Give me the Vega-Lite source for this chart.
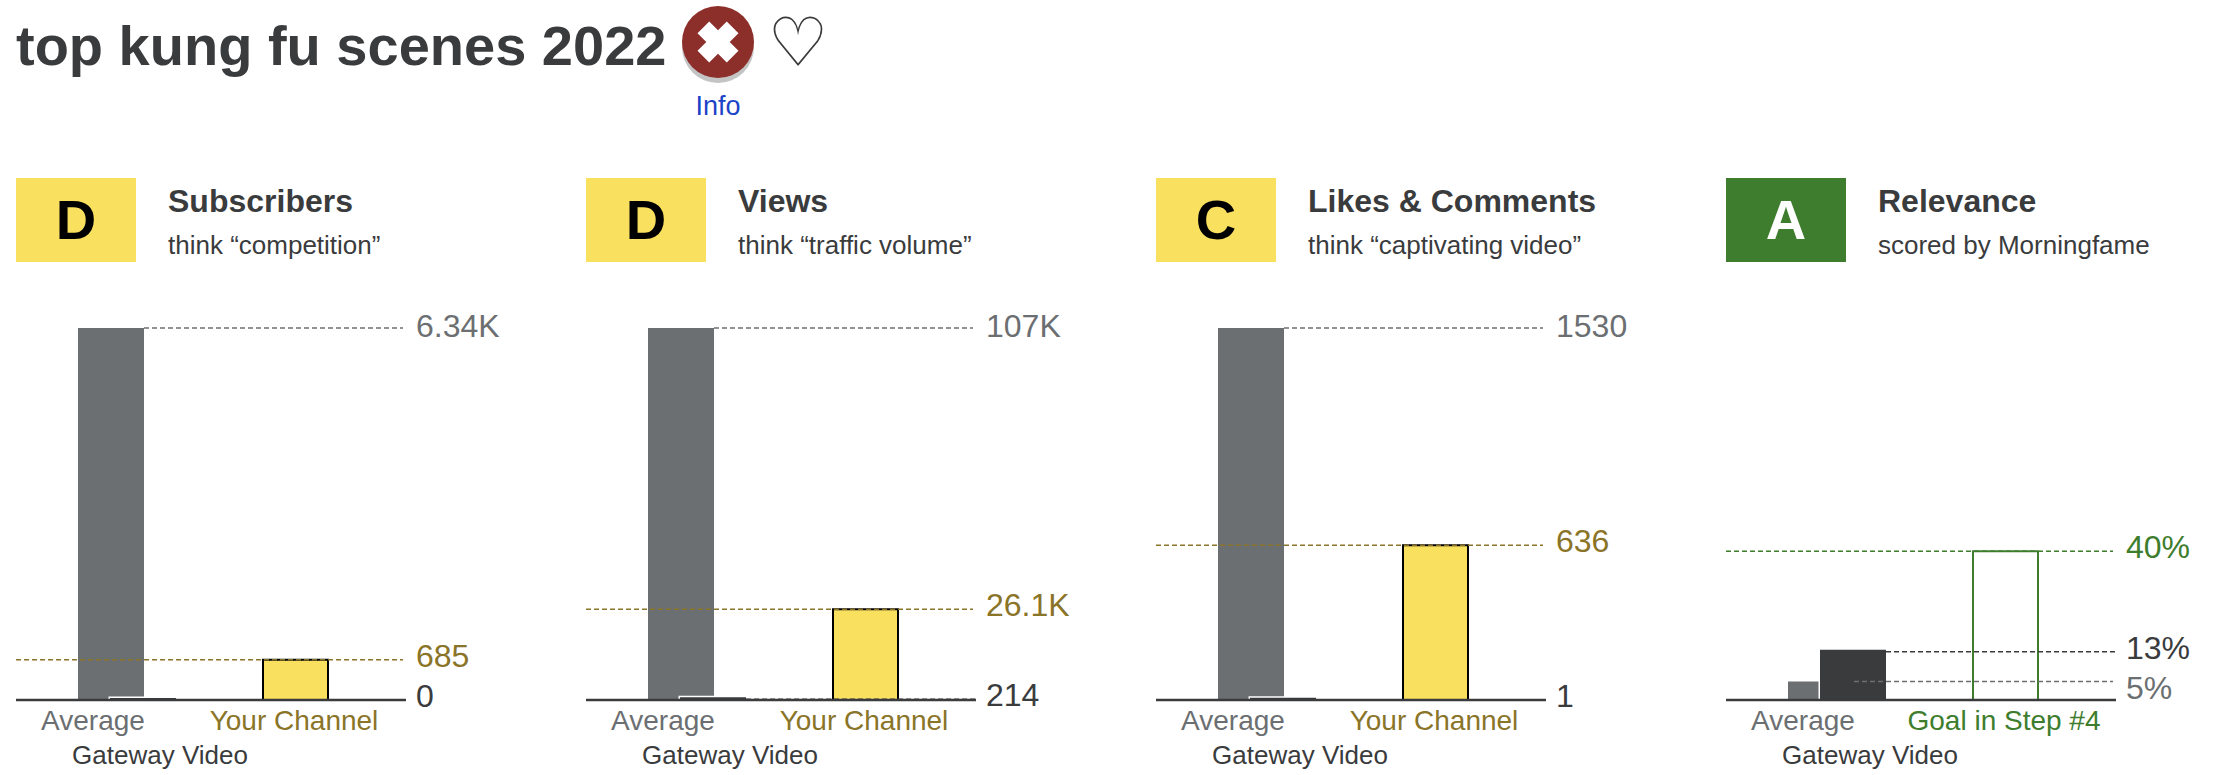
{
"$schema":"https://vega.github.io/schema/vega-lite/v6.json",
"padding":{"left":14,"top":0,"right":0,"bottom":0},
"background":"white",
"config":{"font":"Liberation Sans","view":{"stroke":null},"axis":{"disable":true}},
"datasets":{
"page":[{"title":"top kung fu scenes 2022","link":"Info","favourite":"♡"}],
"heads":[
{"metric":"Subscribers","grade":"D","heading":"Subscribers","note":"think “competition”"},
{"metric":"Views","grade":"D","heading":"Views","note":"think “traffic volume”"},
{"metric":"Likes & Comments","grade":"C","heading":"Likes & Comments","note":"think “captivating video”"},
{"metric":"Relevance","grade":"A","heading":"Relevance","note":"scored by Morningfame"}],
"rows":[
{"metric":"Subscribers","series":"Average","label":"Average","value":6340,"display":"6.34K"},
{"metric":"Subscribers","series":"Gateway Video","label":"Gateway Video","value":0,"display":"0"},
{"metric":"Subscribers","series":"Target","label":"Your Channel","value":685,"display":"685"},
{"metric":"Views","series":"Average","label":"Average","value":107000,"display":"107K"},
{"metric":"Views","series":"Gateway Video","label":"Gateway Video","value":214,"display":"214"},
{"metric":"Views","series":"Target","label":"Your Channel","value":26100,"display":"26.1K"},
{"metric":"Likes & Comments","series":"Average","label":"Average","value":1530,"display":"1530"},
{"metric":"Likes & Comments","series":"Gateway Video","label":"Gateway Video","value":1,"display":"1"},
{"metric":"Likes & Comments","series":"Target","label":"Your Channel","value":636,"display":"636"},
{"metric":"Relevance","series":"Average","label":"Average","value":5,"display":"5%"},
{"metric":"Relevance","series":"Gateway Video","label":"Gateway Video","value":13,"display":"13%"},
{"metric":"Relevance","series":"Target","label":"Goal in Step #4","value":40,"display":"40%"},
{"metric":"Relevance","series":"Scale top","label":"","value":100,"display":""}]
},
"vconcat":[
{"data":{"name":"page"},"width":850,"height":140,
"layer":[
{"mark":{"type":"text","align":"left","baseline":"alphabetic","fontSize":56,"fontWeight":"bold","fill":"#3A3B3D"},
"encoding":{"x":{"datum":0,"type":"quantitative","scale":{"domain":[0,850],"nice":false}},"y":{"datum":65,"type":"quantitative","scale":{"domain":[140,0],"nice":false}},"text":{"field":"title"}}},
{"mark":{"type":"point","filled":true,"fill":"#555555","opacity":0.35,"size":5184,"yOffset":5},
"encoding":{"x":{"datum":702,"type":"quantitative"},"y":{"datum":42,"type":"quantitative"}}},
{"mark":{"type":"point","filled":true,"fill":"#8C2F2B","opacity":1,"size":5184},
"encoding":{"x":{"datum":702,"type":"quantitative"},"y":{"datum":42,"type":"quantitative"}}},
{"mark":{"type":"point","shape":"cross","angle":45,"filled":true,"fill":"white","opacity":1,"size":1714},
"encoding":{"x":{"datum":702,"type":"quantitative"},"y":{"datum":42,"type":"quantitative"}}},
{"mark":{"type":"text","font":"DejaVu Sans","align":"center","baseline":"alphabetic","fontSize":68,"fill":"#3A3B3D"},
"encoding":{"x":{"datum":782,"type":"quantitative"},"y":{"datum":66,"type":"quantitative"},"text":{"field":"favourite"}}},
{"mark":{"type":"text","align":"center","baseline":"alphabetic","fontSize":27,"fill":"#1B44C8"},
"encoding":{"x":{"datum":702,"type":"quantitative"},"y":{"datum":115,"type":"quantitative"},"text":{"field":"link"}}}
]},
{"data":{"name":"heads"},"spacing":{"column":80},
"facet":{"column":{"field":"metric","header":null,"sort":["Subscribers","Views","Likes & Comments","Relevance"]}},
"spec":{"width":490,"height":95,"layer":[
{"mark":{"type":"rect"},
"encoding":{"x":{"datum":0,"type":"quantitative","scale":{"domain":[0,490],"nice":false}},"x2":{"datum":120},"y":{"datum":0,"type":"quantitative","scale":{"domain":[95,0],"nice":false}},"y2":{"datum":84},
"fill":{"condition":{"test":"datum.grade==='A'","value":"#3E7D2D"},"value":"#FAE05F"}}},
{"mark":{"type":"text","align":"center","baseline":"alphabetic","fontSize":56,"fontWeight":"bold"},
"encoding":{"x":{"datum":60,"type":"quantitative"},"y":{"datum":61,"type":"quantitative"},"text":{"field":"grade"},
"fill":{"condition":{"test":"datum.grade==='A'","value":"white"},"value":"black"}}},
{"mark":{"type":"text","align":"left","baseline":"alphabetic","fontSize":32,"fontWeight":"bold","fill":"#3A3B3D"},
"encoding":{"x":{"datum":152,"type":"quantitative"},"y":{"datum":34,"type":"quantitative"},"text":{"field":"heading"}}},
{"mark":{"type":"text","align":"left","baseline":"alphabetic","fontSize":26,"fill":"#3A3B3D"},
"encoding":{"x":{"datum":152,"type":"quantitative"},"y":{"datum":76,"type":"quantitative"},"text":{"field":"note"}}}
]}},
{"data":{"name":"rows"},"spacing":{"column":80},"bounds":"flush",
"facet":{"column":{"field":"metric","header":null,"sort":["Subscribers","Views","Likes & Comments","Relevance"]}},
"resolve":{"scale":{"y":"independent"}},
"spec":{"width":490,"height":372,"layer":[
{"transform":[{"filter":"datum.series==='Scale top'"}],
"mark":{"type":"rule","opacity":0},
"encoding":{"x":{"datum":0,"type":"quantitative","scale":{"domain":[0,490],"nice":false}},"x2":{"datum":1},"y":{"field":"value","type":"quantitative","scale":{"nice":false,"zero":true}}}},
{"transform":[{"filter":"datum.series==='Average'"}],
"mark":{"type":"rect","fill":"#6C6F72"},
"encoding":{"x":{"datum":62,"type":"quantitative"},"x2":{"datum":128},"y":{"field":"value","type":"quantitative"},"y2":{"datum":0}}},
{"transform":[{"filter":"datum.series==='Target'"}],
"mark":{"type":"rect","strokeWidth":2},
"encoding":{"x":{"datum":247,"type":"quantitative"},"x2":{"datum":312},"y":{"field":"value","type":"quantitative"},"y2":{"datum":0},
"fill":{"condition":{"test":"datum.metric==='Relevance'","value":"white"},"value":"#FAE05F"},
"stroke":{"condition":{"test":"datum.metric==='Relevance'","value":"#3E7D2D"},"value":"black"}}},
{"transform":[{"filter":"datum.series==='Gateway Video'"}],
"mark":{"type":"rect","fill":"white","stroke":"white","strokeWidth":3,"yOffset":-2},
"encoding":{"x":{"datum":94,"type":"quantitative"},"x2":{"datum":160},"y":{"field":"value","type":"quantitative"},"y2":{"datum":0}}},
{"transform":[{"filter":"datum.series==='Gateway Video'"}],
"mark":{"type":"rect","fill":"#3A3B3D","yOffset":-2},
"encoding":{"x":{"datum":94,"type":"quantitative"},"x2":{"datum":160},"y":{"field":"value","type":"quantitative"},"y2":{"datum":0}}},
{"transform":[{"filter":"datum.series==='Gateway Video'"}],
"mark":{"type":"rule","stroke":"#3A3B3D","strokeWidth":2.5},
"encoding":{"x":{"datum":0,"type":"quantitative"},"x2":{"datum":390},"y":{"datum":0,"type":"quantitative"}}},
{"transform":[{"filter":"datum.series==='Average'"}],
"mark":{"type":"rule","stroke":"#6C6F72","strokeWidth":1.5,"strokeDash":[5,3]},
"encoding":{"x":{"datum":128,"type":"quantitative"},"x2":{"datum":387},"y":{"field":"value","type":"quantitative"}}},
{"transform":[{"filter":"datum.series==='Gateway Video'"}],
"mark":{"type":"rule","stroke":"#3A3B3D","strokeWidth":1.5,"strokeDash":[5,3]},
"encoding":{"x":{"datum":160,"type":"quantitative"},"x2":{"datum":390},"y":{"field":"value","type":"quantitative"}}},
{"transform":[{"filter":"datum.series==='Target'"}],
"mark":{"type":"rule","strokeWidth":1.5,"strokeDash":[5,3]},
"encoding":{"x":{"datum":0,"type":"quantitative"},"x2":{"datum":387},"y":{"field":"value","type":"quantitative"},
"stroke":{"condition":{"test":"datum.metric==='Relevance'","value":"#3E7D2D"},"value":"#8A7428"}}},
{"transform":[{"filter":"datum.series==='Average' && datum.metric!=='Relevance'"}],
"mark":{"type":"text","align":"left","baseline":"middle","fontSize":32,"dy":-1,"fill":"#6C6F72"},
"encoding":{"x":{"datum":400,"type":"quantitative"},"y":{"field":"value","type":"quantitative"},"text":{"field":"display"}}},
{"transform":[{"filter":"datum.series==='Average' && datum.metric==='Relevance'"}],
"mark":{"type":"text","align":"left","baseline":"middle","fontSize":32,"dy":8,"fill":"#6C6F72"},
"encoding":{"x":{"datum":400,"type":"quantitative"},"y":{"field":"value","type":"quantitative"},"text":{"field":"display"}}},
{"transform":[{"filter":"datum.series==='Gateway Video'"}],
"mark":{"type":"text","align":"left","baseline":"middle","fontSize":32,"dy":-3,"fill":"#3A3B3D"},
"encoding":{"x":{"datum":400,"type":"quantitative"},"y":{"field":"value","type":"quantitative"},"text":{"field":"display"}}},
{"transform":[{"filter":"datum.series==='Target'"}],
"mark":{"type":"text","align":"left","baseline":"middle","fontSize":32,"dy":-3},
"encoding":{"x":{"datum":400,"type":"quantitative"},"y":{"field":"value","type":"quantitative"},"text":{"field":"display"},
"fill":{"condition":{"test":"datum.metric==='Relevance'","value":"#3E7D2D"},"value":"#8A7428"}}},
{"transform":[{"filter":"datum.series==='Average'"}],
"mark":{"type":"text","align":"center","baseline":"middle","fontSize":28,"dy":22,"fill":"#6C6F72"},
"encoding":{"x":{"datum":77,"type":"quantitative"},"y":{"datum":0,"type":"quantitative"},"text":{"field":"label"}}},
{"transform":[{"filter":"datum.series==='Target'"}],
"mark":{"type":"text","align":"center","baseline":"middle","fontSize":28,"dy":22},
"encoding":{"x":{"datum":278,"type":"quantitative"},"y":{"datum":0,"type":"quantitative"},"text":{"field":"label"},
"fill":{"condition":{"test":"datum.metric==='Relevance'","value":"#3E7D2D"},"value":"#8A7428"}}},
{"transform":[{"filter":"datum.series==='Gateway Video'"}],
"mark":{"type":"text","align":"center","baseline":"middle","fontSize":26,"dy":56,"fill":"#3A3B3D"},
"encoding":{"x":{"datum":144,"type":"quantitative"},"y":{"datum":0,"type":"quantitative"},"text":{"field":"label"}}}
]}}
],
"spacing":38
}
